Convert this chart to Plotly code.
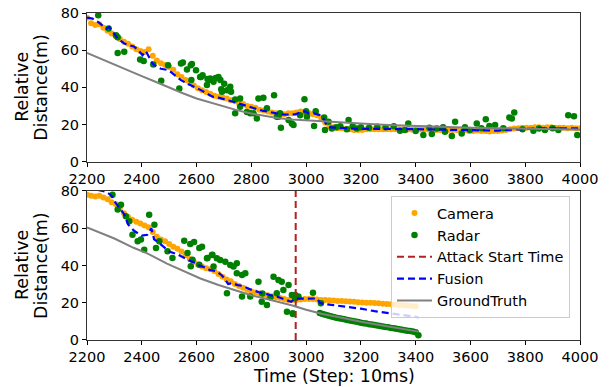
import plotly.graph_objects as go

# ---------------- data : top panel (no attack) ----------------
cam_top_x = list(range(2200, 4001, 15))
cam_top_y = [
    77.5, 74.5, 73.5, 74, 72, 70.5, 69, 67.5, 66, 64.5,
    63.5, 62, 60.5, 59.5, 59, 60.5, 57, 54.5, 53, 52,
    51, 49.5, 47, 45.5, 44, 42.5, 41, 39.5, 38.5, 37.5,
    36.5, 35.5, 35, 34.5, 34, 33, 32.5, 31.5, 31, 30,
    29.5, 29, 28, 27.5, 27, 26.5, 26, 25.5, 25.5, 26,
    26, 26.5, 27, 26.5, 26, 25.5, 25, 23.5, 21, 19,
    18.5, 18, 18, 17.5, 17.5, 17, 17, 17, 17.5, 17.5,
    17.5, 17.5, 17.5, 17.5, 17.5, 17.5, 17.5, 17.5, 17.3, 17.3,
    17.5, 17.5, 17.5, 17.3, 17, 17, 17, 17, 17, 17,
    17, 17, 17, 16.5, 16.5, 16.8, 16.5, 16.5, 16.3, 16.5,
    16.5, 16.8, 17, 17.5, 17.8, 18, 18.2, 18.3, 18.3, 18.5,
    18.5, 18.3, 18.5, 18.5, 18.3, 18.2, 18.3, 18, 18.2, 18,
    18,
]

rad_top_x = [
    2241, 2279, 2306, 2312, 2312, 2336, 2394, 2407, 2442, 2471,
    2496, 2537, 2543, 2550, 2565, 2579, 2583, 2581, 2598, 2613,
    2616, 2622, 2638, 2640, 2646, 2650, 2662, 2670, 2680, 2687,
    2690, 2693, 2701, 2711, 2723, 2726, 2741, 2741, 2759, 2759,
    2784, 2796, 2808, 2820, 2826, 2844, 2857, 2883, 2893, 2899,
    2905, 2908, 2936, 2948, 2954, 2978, 2994, 3000, 3003, 3029,
    3035, 3066, 3069, 3082, 3094, 3110, 3125, 3149, 3155, 3170,
    3185, 3200, 3230, 3260, 3290, 3320, 3343, 3361, 3373, 3400,
    3428, 3450, 3459, 3477, 3500, 3507, 3532, 3544, 3568, 3580,
    3598, 3623, 3640, 3656, 3669, 3690, 3720, 3742, 3751, 3760,
    3790, 3830, 3850, 3872, 3900, 3921, 3957, 3978, 3990,
]
rad_top_y = [
    78.8, 71.6, 68, 67, 58.5, 59.2, 55, 54.2, 52.3, 43.5,
    51.9, 39.4, 52.8, 53.3, 49.6, 51.9, 52.5, 43.9, 49.2, 45.6,
    45.6, 46.5, 41.2, 44.5, 43.9, 44.7, 43, 45, 45.6, 43.9,
    39, 37.6, 42, 38.5, 40.3, 37.6, 33.5, 26, 34, 29.5,
    26.8, 26, 26, 23.3, 34, 34.4, 28.7, 35.8, 24.2, 24.2,
    26, 18.3, 22.4, 20.6, 19.7, 25, 33.6, 27.2, 24.2, 19.2,
    27.2, 23.8, 17, 21.5, 17.9, 18.5, 19, 17.4, 22.4, 19,
    17.9, 18.5, 18.2, 18.8, 18.5, 19, 16.6, 17, 20.6, 16.5,
    14.3, 18.3, 14.9, 17.9, 18.5, 16.1, 13.8, 21.5, 15.2, 18.5,
    17, 20.6, 18, 22.9, 19.2, 19.7, 18, 23.8, 23.3, 26.5,
    17.5, 16.6, 17.8, 17, 18, 17, 25, 24.5, 14.3,
]

fus_top_x = [
    2200, 2220, 2240, 2260, 2270, 2281, 2300, 2312, 2336, 2360,
    2373, 2390, 2403, 2415, 2427, 2439, 2455, 2470, 2490, 2506,
    2525, 2543, 2560, 2579, 2600, 2616, 2640, 2658, 2680, 2700,
    2720, 2740, 2760, 2780, 2800, 2820, 2840, 2860, 2880, 2900,
    2920, 2940, 2960, 2980, 2995, 3010, 3030, 3050, 3063, 3075,
    3090, 3120, 3150, 3200, 3250, 3300, 3350, 3400, 3450, 3500,
    3550, 3600, 3650, 3700, 3750, 3800, 3850, 3900, 3950, 4000,
]
fus_top_y = [
    77.5, 77, 75.2, 73, 71.6, 72.5, 68.5, 66.3, 63.6, 62.5,
    61.8, 59.5, 57.3, 59.5, 56.4, 52.8, 51, 50, 49.5, 48.3,
    46, 43.9, 42.5, 41.2, 39.5, 38.5, 36.5, 35, 34.5, 33.5,
    32.8, 32, 31, 30, 29.2, 28.3, 27.5, 26.8, 26.3, 25.8,
    25.3, 25.2, 25.5, 26.5, 27.2, 26, 26, 25, 23.3, 19.5,
    18.5, 18.2, 18, 17.6, 17.7, 17.8, 17.5, 17.5, 17.3, 17.2,
    17, 17, 16.8, 16.7, 17.2, 17.8, 18, 18, 18, 18,
]

gt_top_x = [2200, 2250, 2300, 2350, 2400, 2450, 2500, 2550, 2600, 2650,
            2700, 2750, 2800, 2850, 2900, 2950, 3000, 3100, 3200, 3300,
            3400, 3500, 3600, 3700, 3800, 3900, 4000]
gt_top_y = [58.5, 55.3, 52.2, 49.1, 46, 43, 39.8, 36.8, 34, 31.8,
            29.6, 27.6, 25.9, 24.5, 23.4, 22.7, 22.2, 21.2, 20.5, 19.8,
            19.2, 18.7, 18.3, 18, 17.8, 17.5, 17.3]

# ---------------- data : bottom panel (attack) ----------------
attack_time = 2962
attack_y = [0, 80]

cam_bot_x = list(range(2200, 3401, 15))
cam_bot_y = [
    78, 77.5, 77, 77.5, 76.5, 75.5, 74, 73, 71, 68,
    66, 64.5, 63.5, 62.5, 61.5, 60.5, 58, 55.5, 54, 53,
    51.5, 50, 49, 47.5, 45.5, 43.5, 42, 40.5, 39.5, 38.5,
    38, 37, 35.5, 34, 32.5, 31.5, 30, 29, 28, 27,
    26, 25.5, 25, 24.5, 24, 23.5, 23, 22.5, 22, 21.5,
    21.5, 21.5, 21.8, 22, 22, 22, 21.8, 21.5, 21.5, 21.3,
    21.2, 21, 21, 20.8, 20.7, 20.5, 20.3, 20.2, 20, 20,
    19.8, 19.7, 19.5, 19.3, 19.2, 19, 18.8, 18.6, 18.5, 18.3,
    18.1,
]

rad_bot_x = [
    2293, 2312, 2324, 2342, 2354, 2366, 2385, 2397, 2409, 2427,
    2446, 2452, 2464, 2494, 2512, 2555, 2567, 2577, 2579, 2585,
    2591, 2610, 2610, 2620, 2638, 2640, 2656, 2658, 2662, 2674,
    2686, 2705, 2711, 2723, 2735, 2747, 2747, 2766, 2766, 2778,
    2796, 2826, 2838, 2840, 2857, 2870, 2881, 2893, 2899, 2911,
    2917, 2930, 2936, 2948, 2951, 2952, 2960, 2960, 2972, 3025,
    3054,
    3050, 3060, 3070, 3080, 3090, 3100, 3110, 3120, 3130, 3140,
    3150, 3160, 3170, 3180, 3190, 3200, 3210, 3220, 3230, 3240,
    3250, 3260, 3270, 3280, 3290, 3300, 3310, 3320, 3330, 3340,
    3350, 3360, 3370, 3380, 3390, 3400, 3410,
]
rad_bot_y = [
    78, 70, 72.6, 66.4, 63.7, 56.5, 53, 53.9, 48.5, 67.3,
    61.9, 49.4, 53, 47.6, 44, 53.3, 46.7, 51.5, 39.6, 43.1,
    52.6, 49.4, 40.4, 50.1, 43.9, 44, 45.6, 45.8, 39.4, 43.9,
    43, 42, 25.1, 40.3, 39.4, 41.2, 35.8, 34.9, 23.3, 35.8,
    23.3, 31.3, 20.6, 25, 18.8, 23, 34, 25.1, 32.2, 31.3,
    26.8, 15.2, 29.5, 24.2, 14.3, 14, 22.4, 24.2, 23.3, 25.4,
    19.7,
    14.5, 14, 13.6, 13.2, 12.8, 12.4, 12, 11.7, 11.4, 11.1,
    10.8, 10.5, 10.2, 9.9, 9.6, 9.3, 9, 8.8, 8.5, 8.3,
    8, 7.8, 7.5, 7.3, 7, 6.8, 6.5, 6.3, 6, 5.8,
    5.5, 5.3, 5, 4.8, 4.5, 4.2, 2.5,
]

fus_bot_x = [
    2200, 2240, 2270, 2290, 2300, 2318, 2336, 2350, 2373, 2400,
    2420, 2435, 2445, 2460, 2482, 2500, 2530, 2555, 2575, 2595,
    2610, 2630, 2650, 2670, 2690, 2705, 2715, 2730, 2750, 2770,
    2790, 2810, 2830, 2850, 2870, 2890, 2910, 2930, 2945, 2960,
    2990, 3020, 3040, 3050, 3060, 3100, 3150, 3200, 3250, 3300,
    3350, 3410,
]
fus_bot_y = [
    82, 80.5, 79.5, 77.5, 74.5, 71, 67.5, 62, 58.5, 56,
    56.5, 60, 54, 52.5, 49.5, 47.5, 46, 44, 42.5, 41.5,
    40, 39, 37.5, 37, 35, 32.5, 30, 30.5, 29.5, 29,
    27.5, 26.5, 25.5, 25, 24, 23.5, 22.5, 21.5, 20.5, 22.2,
    22.3, 22.4, 22.3, 20, 19.5, 18.7, 17.8, 16.8, 15.5, 14.5,
    13.5, 12.2,
]

gt_bot_x = [2200, 2250, 2300, 2370, 2420, 2492, 2550, 2614, 2680, 2736,
            2800, 2857, 2900, 2950, 3000, 3060, 3130, 3200, 3300, 3410]
gt_bot_y = [60.5, 57.5, 54.5, 49.5, 46.5, 41, 37, 33, 29.5, 26.8,
            24, 22, 20.5, 18.5, 16.2, 14, 12, 9.8, 7.2, 4.5]

x_ticks = [2200, 2400, 2600, 2800, 3000, 3200, 3400, 3600, 3800, 4000]
y_ticks = [0, 20, 40, 60, 80]

# ---------------- styles ----------------
C_CAM = "#FFA500"
C_RAD = "#008000"
C_ATK = "#B22222"
C_FUS = "#0000FF"
C_GT = "#808080"
FONT = "DejaVu Sans"

fig = go.Figure()

def add_panel(xa, ya, cx, cy, rx, ry, fx, fy, gx, gy, legend, attack=False):
    fig.add_trace(go.Scatter(x=cx, y=cy, mode="markers", name="Camera",
                             marker=dict(color=C_CAM, size=6),
                             xaxis=xa, yaxis=ya, showlegend=legend))
    fig.add_trace(go.Scatter(x=rx, y=ry, mode="markers", name="Radar",
                             marker=dict(color=C_RAD, size=6.5),
                             xaxis=xa, yaxis=ya, showlegend=legend))
    if attack:
        fig.add_trace(go.Scatter(x=[attack_time, attack_time], y=attack_y,
                                 mode="lines", name="Attack Start Time",
                                 line=dict(color=C_ATK, width=2, dash="7px,4px"),
                                 xaxis=xa, yaxis=ya, showlegend=legend))
    fig.add_trace(go.Scatter(x=fx, y=fy, mode="lines", name="Fusion",
                             line=dict(color=C_FUS, width=2.2, dash="7px,4px"),
                             xaxis=xa, yaxis=ya, showlegend=legend))
    fig.add_trace(go.Scatter(x=gx, y=gy, mode="lines", name="GroundTruth",
                             line=dict(color=C_GT, width=2),
                             xaxis=xa, yaxis=ya, showlegend=legend))

add_panel("x", "y", cam_top_x, cam_top_y, rad_top_x, rad_top_y,
          fus_top_x, fus_top_y, gt_top_x, gt_top_y, False)
add_panel("x2", "y2", cam_bot_x, cam_bot_y, rad_bot_x, rad_bot_y,
          fus_bot_x, fus_bot_y, gt_bot_x, gt_bot_y, True, attack=True)

axis_common = dict(showgrid=False, zeroline=False, showline=True, mirror=True,
                   linecolor="#333333", linewidth=1, ticks="outside", ticklen=4,
                   tickcolor="#000000", tickwidth=1, automargin=False,
                   tickfont=dict(family=FONT, size=14.5, color="#000000"))

fig.update_layout(
    width=610, height=387, autosize=False,
    margin=dict(l=87, r=30, t=13, b=47, pad=0, autoexpand=False),
    paper_bgcolor="white", plot_bgcolor="white",
    font=dict(family=FONT, color="#000000"),
    xaxis=dict(domain=[0, 1], range=[2200, 4000], anchor="y", tickvals=x_ticks, **axis_common),
    yaxis=dict(domain=[0.5453, 1], range=[0, 80], anchor="x", tickvals=y_ticks, **axis_common),
    xaxis2=dict(domain=[0, 1], range=[2200, 4000], anchor="y2", tickvals=x_ticks, **axis_common),
    yaxis2=dict(domain=[0, 0.4557], range=[0, 80], anchor="x2", tickvals=y_ticks, **axis_common),
    legend=dict(x=0.6166, y=0.4400, xanchor="left", yanchor="top",
                xref="paper", yref="paper",
                bgcolor="rgba(255,255,255,0.8)", bordercolor="#cccccc", borderwidth=1,
                font=dict(family=FONT, size=14.5, color="#000000"),
                itemwidth=35, tracegroupgap=0),
    showlegend=True,
)

anns = []
for yref in ["y domain", "y2 domain"]:
    anns.append(dict(text="Relative", xref="paper", x=0, xshift=-64.5,
                     yref=yref, y=0.5, textangle=-90, showarrow=False,
                     xanchor="center", yanchor="middle",
                     font=dict(family=FONT, size=17.4, color="#000000")))
    anns.append(dict(text="Distance(m)", xref="paper", x=0, xshift=-45.5,
                     yref=yref, y=0.5, textangle=-90, showarrow=False,
                     xanchor="center", yanchor="middle",
                     font=dict(family=FONT, size=17.4, color="#000000")))
anns.append(dict(text="Time (Step: 10ms)", xref="x2 domain", x=0.5,
                 yref="paper", y=0, yshift=-36, showarrow=False,
                 xanchor="center", yanchor="middle",
                 font=dict(family=FONT, size=17.4, color="#000000")))
fig.update_layout(annotations=anns)

fig.write_html("out.html", config={"displayModeBar": False},
               post_script="document.body.style.margin='0px';document.body.style.overflow='hidden';")
